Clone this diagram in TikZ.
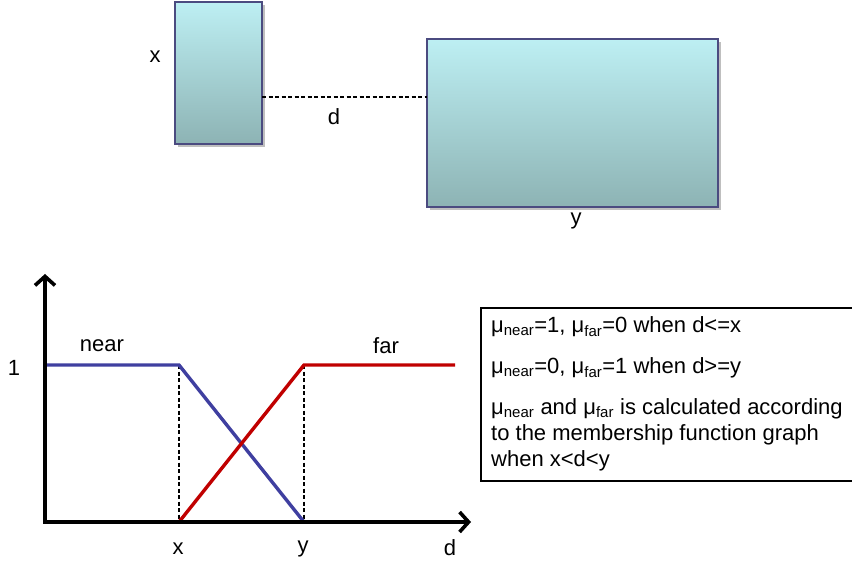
\documentclass[tikz,border=0pt]{standalone}
\usepackage{fontspec}
\setmainfont{Liberation Sans}
\usetikzlibrary{arrows.meta}
\definecolor{boxtop}{HTML}{BDEFF3}
\definecolor{boxbot}{HTML}{8DB3B4}
\definecolor{boxline}{HTML}{4B4B80}
\definecolor{nearc}{HTML}{3F3FA0}
\definecolor{farc}{HTML}{C00000}
\tikzset{
  objbox/.style={draw=boxline, line width=1.6pt, top color=boxtop, bottom color=boxbot, inner sep=0pt},
  lbl/.style={font=\fontsize{22}{26}\selectfont, inner sep=0pt},
  axis/.style={line width=3.6pt, -{Straight Barb[length=9pt,width=20pt,line width=3.6pt]}},
  guide/.style={line width=1.4pt, dash pattern=on 4pt off 2.5pt},
  mf/.style={line width=3.4pt},
}
\newcommand{\mus}[1]{μ\textsubscript{\fontsize{15}{15}\selectfont #1}}
\begin{document}
\begin{tikzpicture}[x=1pt,y=-1pt]
\useasboundingbox (0,0) rectangle (852,564);
% top boxes
\fill[black!25] (178,5) rectangle (265,147);
\path[objbox] (175,2) rectangle (262,144);
\coordinate (sbR) at (262,97);
\fill[black!25] (430,42) rectangle (721,210);
\path[objbox] (427,39) rectangle (718,207);
\coordinate (bbL) at (427,97);
\draw[guide, line width=1.8pt] (sbR) -- (bbL);
\node[lbl] (lx) at (155,57) {x};
\node[lbl] (ld) at (334,117) {d};
\node[lbl] (ly) at (576,221) {y};
% graph
\coordinate (O) at (45,522);
\coordinate (Ytop) at (45,274);
\coordinate (Xend) at (471,522);
\coordinate (A) at (45,365);
\coordinate (B) at (179,365);
\coordinate (C) at (304,522);
\coordinate (D) at (179,522);
\coordinate (E) at (304,365);
\coordinate (F) at (455,365);
\draw[guide] (B) -- (D);
\draw[guide] (E) -- (C);
\draw[mf, nearc] (A) -- (B) -- (C);
\draw[mf, farc] (D) -- (E) -- (F);
\draw[axis] (45,523.8) -- (Ytop);
\draw[axis] (43.2,522) -- (Xend);
\node[lbl] (l1) at (14,368) {1};
\node[lbl] (lnear) at (102,346) {near};
\node[lbl] (lfar) at (386,346) {far};
\node[lbl] (gx) at (178,549) {x};
\node[lbl] (gy) at (303,549) {y};
\node[lbl] (gd) at (450,548) {d};
% text box
\draw[line width=1.6pt] (481,308) rectangle (860,481);
\node[lbl, anchor=west] (t1) at (491,327) {\mus{near}=1, \mus{far}=0 when d<=x};
\node[lbl, anchor=west] (t2) at (491,368) {\mus{near}=0, \mus{far}=1 when d>=y};
\node[lbl, anchor=north west, align=left, font=\fontsize{22}{26}\selectfont] (t3) at (491,398) {\mus{near} and \mus{far} is calculated according\\to the membership function graph\\when x<d<y};
\end{tikzpicture}
\end{document}
